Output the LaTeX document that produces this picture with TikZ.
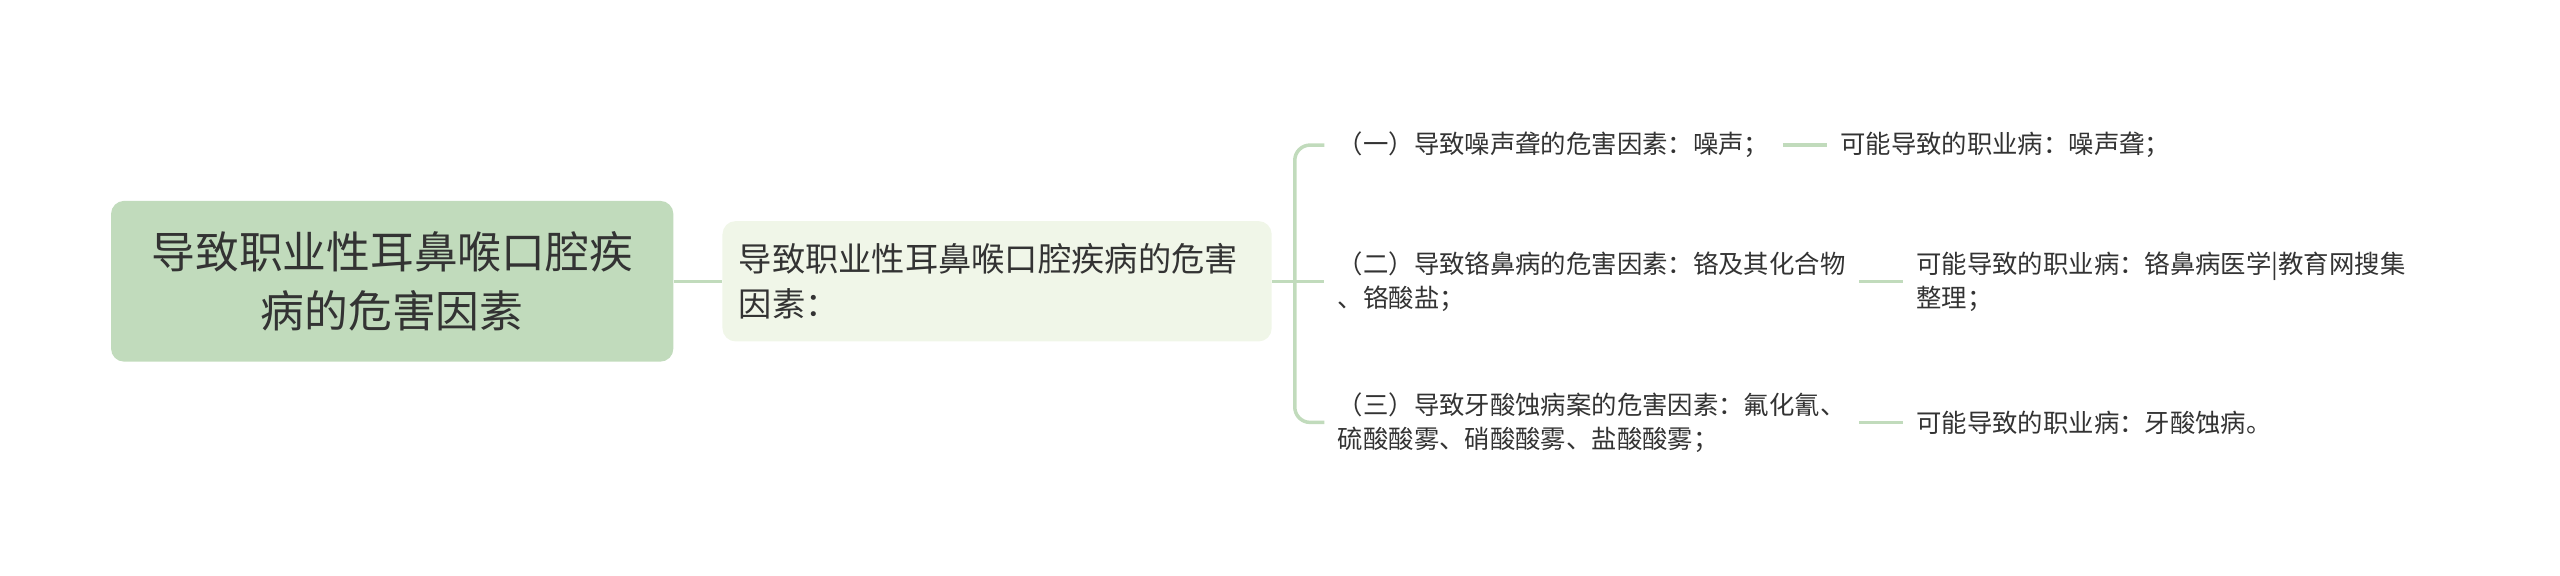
\documentclass[tikz,border=0pt]{standalone}
\usepackage{fontspec}
\setmainfont{Noto Sans CJK SC}
\usepackage{xcolor}
\usepackage{tikz}
\usetikzlibrary{positioning}
\definecolor{rootgreen}{RGB}{193,219,188}
\definecolor{subgreen}{RGB}{240,246,232}
\definecolor{linegreen}{RGB}{193,219,188}
\definecolor{txtgray}{RGB}{51,51,51}

\begin{document}
\begin{tikzpicture}[x=0.75pt,y=0.75pt,
	rootbox/.style={fill=rootgreen, rounded corners=6pt, minimum width=257pt, minimum height=73.5pt, align=center, text=txtgray, font=\fontsize{20}{27}\selectfont},
	subbox/.style={fill=subgreen, rounded corners=6pt, text width=236pt, minimum height=55pt, inner xsep=7.5pt, align=left, text=txtgray, font=\fontsize{15.2}{20.3}\selectfont},
	leaf/.style={inner xsep=6pt, inner ysep=2pt, align=left, text=txtgray, font=\fontsize{11.6}{15.5}\selectfont},
	branch/.style={draw=linegreen, line width=1.6pt}]
	\useasboundingbox (0,0) rectangle (1560,350.4);
	
	\coordinate (R) at (239,179);
	\coordinate (F) at (789,179);
	
	\node[rootbox] (root) at (R) {导致职业性耳鼻喉口腔疾\\病的危害因素};
	\node[subbox, anchor=west] (factor) at (440,179) {导致职业性耳鼻喉口腔疾病的危害\\因素：};
	
	\node[leaf, anchor=west] (noise) at (807,262) {（一）导致噪声聋的危害因素：噪声；};
	\node[leaf, anchor=west] (chrome) at (807,179) {（二）导致铬鼻病的危害因素：铬及其化合物\\、铬酸盐；};
	\node[leaf, anchor=west] (acid) at (807,93) {（三）导致牙酸蚀病案的危害因素：氟化氰、\\硫酸酸雾、硝酸酸雾、盐酸酸雾；};
	
	\node[leaf, right=20pt of noise] (noiseill) {可能导致的职业病：噪声聋；};
	\node[leaf, right=20pt of chrome] (chromeill) {可能导致的职业病：铬鼻病医学|教育网搜集\\整理；};
	\node[leaf, right=20pt of acid] (acidill) {可能导致的职业病：牙酸蚀病。};
	
	\draw[branch] (root) -- (factor);
	\draw[branch] (factor) -- (F);
	\draw[branch, rounded corners=7pt] (F) |- (noise);
	\draw[branch] (F) -- (chrome);
	\draw[branch, rounded corners=7pt] (F) |- (acid);
	
	\draw[branch] (noise) -- (noiseill);
	\draw[branch] (chrome) -- (chromeill);
	\draw[branch] (acid) -- (acidill);
\end{tikzpicture}
\end{document}
